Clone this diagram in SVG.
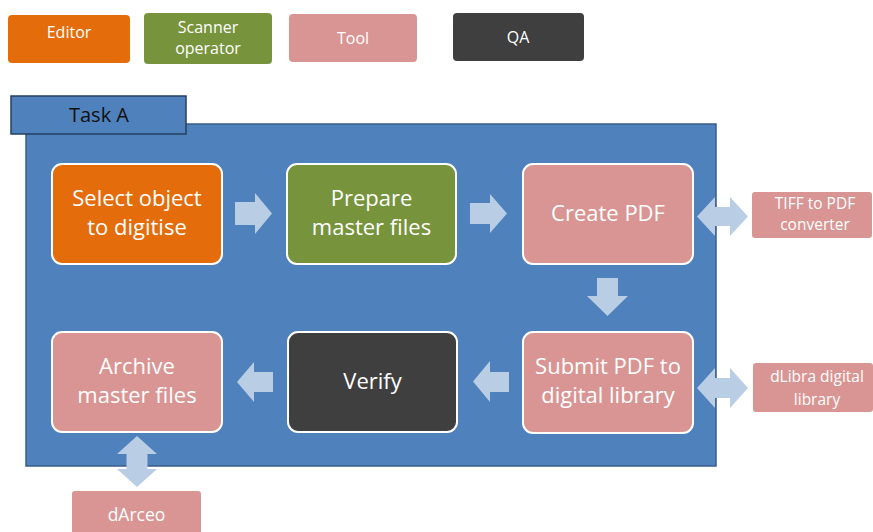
<svg xmlns="http://www.w3.org/2000/svg" width="873" height="532" viewBox="0 0 873 532">
<style>
text{font-family:"Open Sans","Liberation Sans",sans-serif;text-anchor:middle;fill:#fff}
.n{stroke:#fff;stroke-width:2}
.big{font-size:22px}
.lg{font-size:16px}
.sm{font-size:15.5px}
.ed{fill:#E46C0A}
.sc{fill:#77933C}
.tl{fill:#D99594}
.qa{fill:#3F3F3F}
.ar{fill:#B9CDE5}
</style>
<rect width="873" height="532" fill="#fff"/>
<g id="legend">
<g id="leg-editor"><rect class="ed" x="8" y="15" width="122" height="48" rx="4"/><text class="lg" x="69" y="38">Editor</text></g>
<g id="leg-scanner"><rect class="sc" x="144" y="13" width="128" height="51" rx="4"/><text class="lg" x="208" y="33">Scanner</text><text class="lg" x="208" y="54">operator</text></g>
<g id="leg-tool"><rect class="tl" x="289" y="14" width="128" height="48" rx="4"/><text class="lg" x="353" y="44">Tool</text></g>
<g id="leg-qa"><rect class="qa" x="453" y="13" width="131" height="48" rx="4"/><text class="lg" x="518" y="43">QA</text></g>
</g>
<g id="taskA">
<rect x="26" y="124" width="690" height="342" fill="#4F81BD" stroke="#385D8A" stroke-width="1.5"/>
<rect x="11" y="96" width="175" height="38" fill="#4F81BD" stroke="#243F60" stroke-width="1.5"/>
<text x="99" y="122" style="font-size:20px;fill:#111">Task A</text>
</g>
<g id="connectors">
<path class="ar" d="M235,202H255V193L272,213.5L255,234V225H235Z"/>
<path class="ar" d="M470,203H490V194L507,213.5L490,233V224H470Z"/>
<path class="ar" d="M597,278H618V296H628L607.5,316L587,296H597Z"/>
<path class="ar" d="M509,372H490V361L473,381.5L490,402V392H509Z"/>
<path class="ar" d="M273,372H254V362L237,382L254,402V392H273Z"/>
<path class="ar" d="M697,216.5L715,197V207H730V197L748,216.5L730,236V226H715V236Z"/>
<path class="ar" d="M697,388L715,368V378H730V368L748,388L730,408V398H715V408Z"/>
<path class="ar" d="M137,436L157,454H147.5V469H157L137,487L117,469H126.5V454H117Z"/>
</g>
<g id="select"><rect class="n ed" x="52" y="164" width="170" height="100" rx="10"/><text class="big" x="137" y="206">Select object</text><text class="big" x="137" y="235">to digitise</text></g>
<g id="prepare"><rect class="n sc" x="287" y="164" width="169" height="100" rx="10"/><text class="big" x="371.5" y="206">Prepare</text><text class="big" x="371.5" y="235">master files</text></g>
<g id="create"><rect class="n tl" x="523" y="164" width="170" height="100" rx="10"/><text class="big" x="608" y="221">Create PDF</text></g>
<g id="submit"><rect class="n tl" x="523" y="332" width="170" height="101" rx="10"/><text class="big" x="608" y="374">Submit PDF to</text><text class="big" x="608" y="403">digital library</text></g>
<g id="verify"><rect class="n qa" x="288" y="332" width="169" height="100" rx="10"/><text class="big" x="372.5" y="389">Verify</text></g>
<g id="archive"><rect class="n tl" x="52" y="332" width="170" height="100" rx="10"/><text class="big" x="137" y="374">Archive</text><text class="big" x="137" y="403">master files</text></g>
<g id="tiff"><rect class="tl" x="752" y="192" width="120" height="46" rx="3"/><text class="sm" x="815" y="209">TIFF to PDF</text><text class="sm" x="815" y="230">converter</text></g>
<g id="dlibra"><rect class="tl" x="753" y="363" width="120" height="49" rx="3"/><text class="sm" x="817" y="382">dLibra digital</text><text class="sm" x="817" y="405">library</text></g>
<g id="darceo"><rect class="tl" x="72" y="491" width="129" height="45" rx="3"/><text class="sm" x="136.5" y="521" style="font-size:17.5px">dArceo</text></g>
</svg>
